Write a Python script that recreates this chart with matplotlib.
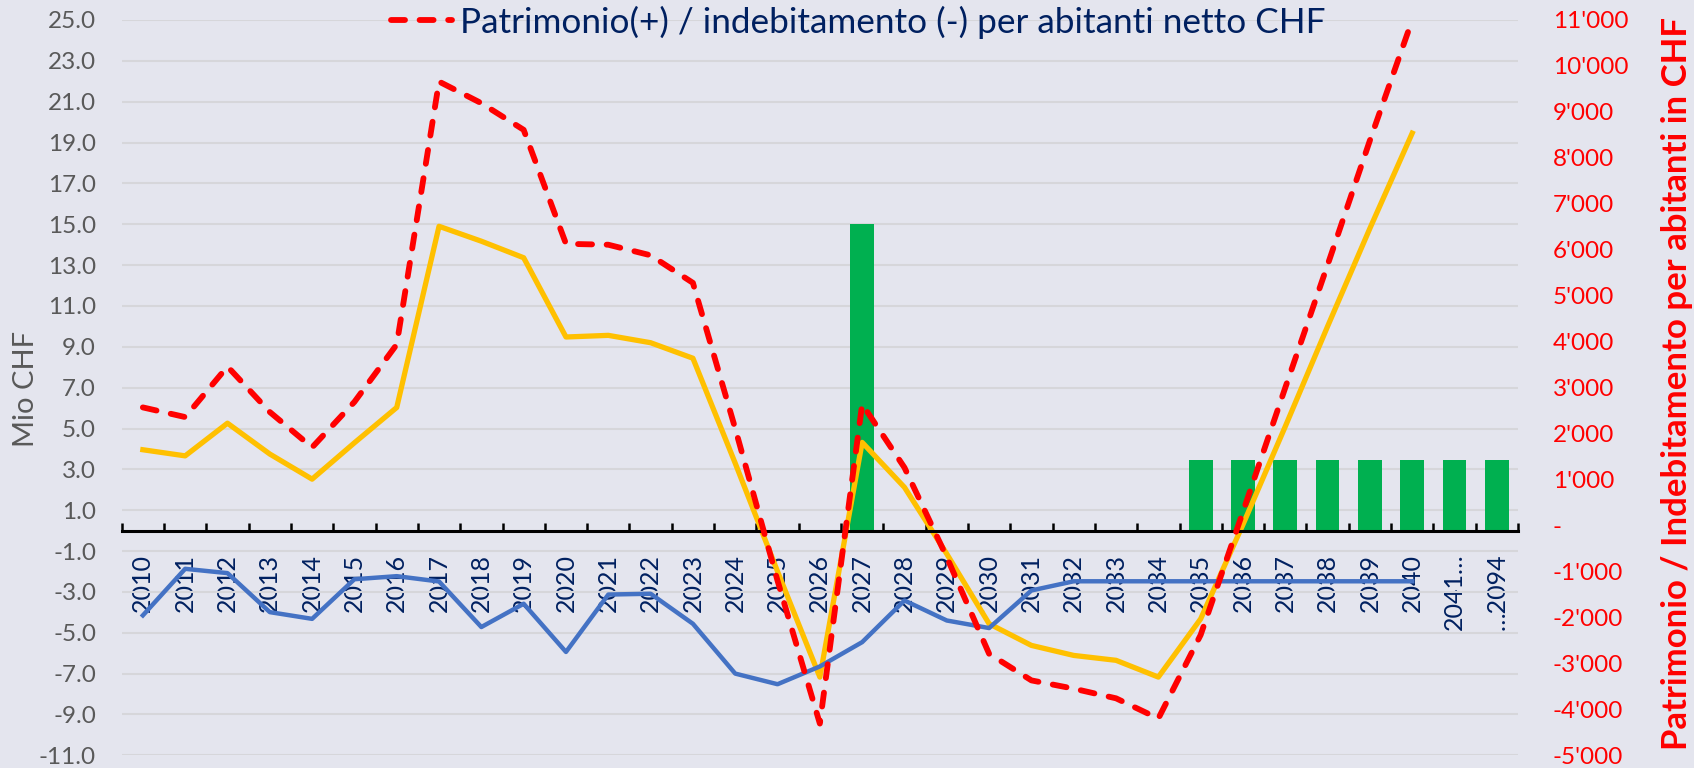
import numpy as np
import matplotlib.pyplot as plt
from matplotlib.ticker import FixedLocator, FuncFormatter, MultipleLocator

plt.rcParams['font.family'] = ['Lato', 'DejaVu Sans']

# categories on the x axis
years = [str(y) for y in range(2010, 2041)] + ["2041…", "…2094"]

# blue line, Mio CHF (left axis)
blue = [-4.15, -1.87, -2.08, -3.99, -4.32, -2.38, -2.23, -2.49, -4.72, -3.58, -5.94,
        -3.13, -3.09, -4.56, -7.00, -7.52, -6.65, -5.46, -3.42, -4.40, -4.77, -2.93,
        -2.48, -2.48, -2.48, -2.48, -2.48, -2.48, -2.48, -2.48, -2.48, np.nan, np.nan]

# yellow line, Mio CHF (left axis)
yellow = [3.96, 3.66, 5.26, 3.75, 2.52, 4.30, 6.03, 14.90, 14.17, 13.36, 9.48,
          9.56, 9.20, 8.44, 3.30, -2.00, -7.17, 4.32, 2.12, -1.14, -4.56, -5.62,
          -6.11, -6.35, -7.17, -4.32, 0.30, 5.10, 10.00, 14.80, 19.46, np.nan, np.nan]

# green bars, Mio CHF (left axis)
bars = [np.nan] * 17 + [15.0] + [np.nan] * 7 + [3.45] * 8

# red dashed line, CHF per abitante (right axis)
red = [2570, 2360, 3460, 2470, 1700, 2690, 3940, 9660, 9190, 8610, 6130,
       6110, 5880, 5280, 2110, -1200, -4310, 2640, 1260, -690, -2790, -3370,
       -3550, -3760, -4200, -2380, 300, 3000, 5670, 8380, 11000, np.nan, np.nan]

red_label = "Patrimonio(+) / indebitamento (-) per abitanti netto CHF"

BG = '#E4E5EE'
NAVY = '#002060'

fig = plt.figure(figsize=(16.94, 7.68), dpi=100, facecolor=BG)
ax = fig.add_axes([121.7 / 1694, 1 - 755.3 / 768, (1518 - 121.7) / 1694, (755.3 - 20) / 768])
ax.set_facecolor(BG)

x = np.arange(len(years))
ax.bar(x, bars, width=0.56, color='#00B050', zorder=2)
ax.plot(x, yellow, color='#FFC000', lw=3.8, zorder=3)
ax.plot(x, blue, color='#4472C4', lw=3.2, zorder=4)

ax.set_xlim(-0.5, len(years) - 0.5)
ax.set_ylim(-11, 25)
ax.yaxis.set_major_locator(FixedLocator(np.arange(-11, 26, 2)))
ax.yaxis.set_major_formatter(FuncFormatter(lambda v, p: f"{v:.1f}"))
ax.tick_params(axis='y', length=0, pad=18.5, labelsize=17.5, labelcolor='#595959')
ax.grid(axis='y', color='#D6D6DA', lw=1.5, zorder=0)
ax.set_axisbelow(True)

for s in ['left', 'right', 'top']:
    ax.spines[s].set_visible(False)
ax.spines['bottom'].set_position(('data', 0))
ax.spines['bottom'].set_linewidth(2.2)
ax.spines['bottom'].set_zorder(5)

# ticks on the category boundaries, labels on the centres
ax.set_xticks(np.arange(-0.5, len(years)))
ax.set_xticklabels([])
ax.set_xticks(x, minor=True)
ax.set_xticklabels(years, minor=True, rotation=90)
ax.tick_params(axis='x', which='major', direction='in', length=6, width=1.8, color='black')
ax.tick_params(axis='x', which='minor', length=0, pad=16.5, labelsize=18, labelcolor=NAVY)

ax2 = ax.twinx()
line, = ax2.plot(x, red, color='#FF0000', lw=4.2, dashes=(2.4, 2.5),
                 dash_capstyle='round', zorder=5)
ax2.set_ylim(-5000, 11000)
ax2.yaxis.set_major_locator(MultipleLocator(1000))


def chf(v, p):
    if v == 0:
        return "-"
    return f"{v:,.0f}".replace(",", "'")


ax2.yaxis.set_major_formatter(FuncFormatter(chf))
ax2.tick_params(axis='y', length=0, pad=25, labelsize=17.5, labelcolor='#FF0000')
for s in ax2.spines.values():
    s.set_visible(False)

fig.legend([line], [red_label], loc='center', bbox_to_anchor=(858 / 1694, 1 - 22 / 768),
           frameon=False, fontsize=25.3, handlelength=1.75, handletextpad=0.2,
           borderpad=0, labelcolor=NAVY)

fig.text(26 / 1694, 1 - 389 / 768, "Mio CHF", rotation=90, ha='center', va='center',
         fontsize=21, color='#595959')
fig.text(1677 / 1694, 0.501, "Patrimonio / Indebitamento per abitanti in CHF", rotation=90,
         ha='center', va='center', fontsize=25, fontweight='bold', color='#FF0000')

fig.savefig('out.png', dpi=100, facecolor=BG)
